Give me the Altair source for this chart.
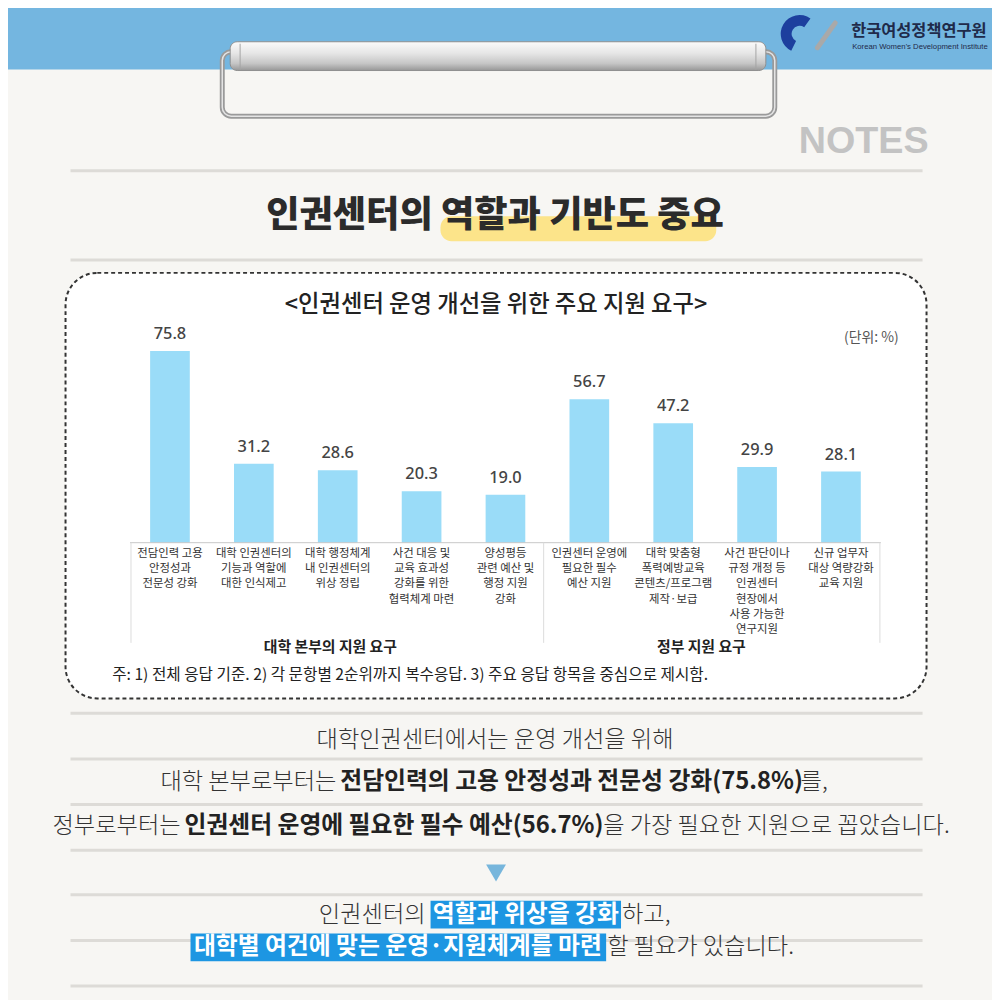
"""Infographic: 인권센터 운영 개선을 위한 주요 지원 요구 (Altair)."""

import altair as alt
import pandas as pd

# ---- data -----------------------------------------------------------------
categories = [
    "전담인력 고용\n안정성과\n전문성 강화",
    "대학 인권센터의\n기능과 역할에\n대한 인식제고",
    "대학 행정체계\n내 인권센터의\n위상 정립",
    "사건 대응 및\n교육 효과성\n강화를 위한\n협력체계 마련",
    "양성평등\n관련 예산 및\n행정 지원\n강화",
    "인권센터 운영에\n필요한 필수\n예산 지원",
    "대학 맞춤형\n폭력예방교육\n콘텐츠/프로그램\n제작·보급",
    "사건 판단이나\n규정 개정 등\n인권센터\n현장에서\n사용 가능한\n연구지원",
    "신규 업무자\n대상 역량강화\n교육 지원",
]
values = [75.8, 31.2, 28.6, 20.3, 19.0, 56.7, 47.2, 29.9, 28.1]
groups = ["대학 본부의 지원 요구"] * 5 + ["정부 지원 요구"] * 4

# ---- layout helpers ---------------------------------------------------------
W = H = 992          # plot area; page margin is 8px
OFF = 8
KR = "Noto Sans CJK KR"
LIGHT = 23.4         # body text sizes
BOLD = 24
one = pd.DataFrame({"k": [0]})


def P(v):
    """Reference pixel -> plot-area pixel."""
    return v - OFF


def box(x1, y1, x2, y2, **kw):
    return alt.Chart(one).mark_rect(**kw).encode(
        x=alt.value(P(x1)), x2=alt.value(P(x2)),
        y=alt.value(P(y1)), y2=alt.value(P(y2)))


def line(x1, y1, x2, y2, **kw):
    return alt.Chart(one).mark_rule(**kw).encode(
        x=alt.value(P(x1)), x2=alt.value(P(x2)),
        y=alt.value(P(y1)), y2=alt.value(P(y2)))


def label(s, x, y, size, weight=400, color="#333333", align="center",
          baseline="middle", font=KR):
    return alt.Chart(one).mark_text(
        align=align, baseline=baseline, fontSize=size, fontWeight=weight,
        color=color, font=font).encode(
        x=alt.value(P(x)), y=alt.value(P(y)), text=alt.value(s))


layers = []

# background + blue header band
layers.append(box(0, 0, 1000, 1000, color="#f7f6f3"))
layers.append(box(0, 0, 1000, 66, color="#74b6e0"))

# clipboard clip
layers.append(box(224, 48, 781, 113, filled=False, stroke="#9a9a9a",
                  strokeWidth=5, cornerRadius=9))
layers.append(box(224, 48, 781, 113, filled=False, stroke="#e4e4e4",
                  strokeWidth=1.5, cornerRadius=9))
metal = alt.Gradient(
    gradient="linear", x1=0, x2=0, y1=0, y2=1,
    stops=[alt.GradientStop(offset=0, color="#fbfbfb"),
           alt.GradientStop(offset=0.4, color="#e6e6e6"),
           alt.GradientStop(offset=0.75, color="#c6c6c6"),
           alt.GradientStop(offset=1, color="#979797")])
layers.append(box(232, 38, 772, 67, fill=metal, stroke="#8f8f8f",
                  strokeWidth=1, cornerRadius=7))
layers.append(line(242, 40, 242, 66, color="#a5a5a5", strokeWidth=1))
layers.append(line(762, 40, 762, 66, color="#a5a5a5", strokeWidth=1))

# logo
layers.append(alt.Chart(one).mark_arc(color="#1d3f9e").encode(
    x=alt.value(P(806)), y=alt.value(P(30)),
    theta=alt.value(3.6), theta2=alt.value(6.9),
    radius=alt.value(19), radius2=alt.value(8)))
layers.append(line(824, 44, 842, 19, color="#a9a9a9", strokeWidth=5,
                   strokeCap="round"))
layers.append(label("한국여성정책연구원", 858, 27, 16.5, weight=700,
                    color="#1f2a4a", align="left"))
layers.append(label("Korean Women's Development Institute", 859, 43, 7.8,
                    color="#1f2a4a", align="left", font="Liberation Sans"))

# NOTES
layers.append(label("NOTES", 936, 150, 38, weight=700, color="#c3c3c3",
                    align="right", baseline="alphabetic",
                    font="Liberation Sans"))

# horizontal rules
for ry in [168, 258, 715, 761, 807, 853, 898, 944, 990]:
    layers.append(line(71, ry, 930, ry, color="#dddbd7", strokeWidth=3))

# headline with yellow marker
layers.append(box(444, 214, 722, 239, color="#fce48a", cornerRadius=11))
layers.append(label("인권센터의 역할과 기반도 중요", 499, 214, 36.5,
                    weight=900, color="#2b2b2b"))

# dashed chart frame
layers.append(box(66, 271, 934, 700, fill="#ffffff", stroke="#333333",
                  strokeWidth=2, strokeDash=[4, 3], cornerRadius=32))
layers.append(label("<인권센터 운영 개선을 위한 주요 지원 요구>", 500, 303,
                    23.5, weight=500, color="#222222"))
layers.append(label("(단위: %)", 906, 337, 14, color="#555555",
                    align="right"))

# ---- bar chart through scales ---------------------------------------------
df = pd.DataFrame({"item": categories, "value": values, "group": groups})
xs = alt.X("item:N", sort=None, axis=None,
           scale=alt.Scale(domain=categories, range=[P(129), P(890)],
                           paddingInner=0.527, paddingOuter=0.2635))
ys = alt.Y("value:Q", axis=None,
           scale=alt.Scale(domain=[0, 100], range=[P(543), P(288)]))

layers.append(alt.Chart(df).mark_bar(color="#9adcf8").encode(x=xs, y=ys))
layers.append(alt.Chart(df).mark_text(
    baseline="bottom", dy=-9, fontSize=16.5, fontWeight=500, color="#444444",
    font="Noto Sans").encode(
    x=xs, y=ys, text=alt.Text("value:Q", format=".1f")))
layers.append(alt.Chart(df).mark_text(
    baseline="top", lineBreak="\n", fontSize=11.5, lineHeight=15.5,
    color="#333333", font=KR).encode(
    x=xs, y=alt.value(P(548)), text="item:N"))

# baseline and group separators
layers.append(line(131, 543, 888, 543, color="#c8c8c8", strokeWidth=1))
for sx in [132, 548, 887]:
    layers.append(line(sx, 543, sx, 644, color="#dcdcdc", strokeWidth=1))
layers.append(label("대학 본부의 지원 요구", 333, 648, 15, weight=700,
                    color="#222222"))
layers.append(label("정부 지원 요구", 707, 648, 15, weight=700,
                    color="#222222"))
layers.append(label(
    "주: 1) 전체 응답 기준. 2) 각 문항별 2순위까지 복수응답. 3) 주요 응답 항목을 중심으로 제시함.",
    113, 676, 15.8, color="#222222", align="left"))

# ---- body text --------------------------------------------------------------
layers.append(label("대학인권센터에서는 운영 개선을 위해", 499, 742, LIGHT,
                    weight=300))
layers.append(label("대학 본부로부터는", 339, 784, LIGHT, weight=300,
                    align="right"))
layers.append(label("전담인력의 고용 안정성과 전문성 강화(75.8%)", 343, 784,
                    BOLD, weight=700, color="#222222", align="left"))
layers.append(label("를,", 807, 784, LIGHT, weight=300, align="left"))
layers.append(label("정부로부터는", 182, 829, LIGHT, weight=300,
                    align="right"))
layers.append(label("인권센터 운영에 필요한 필수 예산(56.7%)", 186, 829, BOLD,
                    weight=700, color="#222222", align="left"))
layers.append(label("을 가장 필요한 지원으로 꼽았습니다.", 608, 829, LIGHT,
                    weight=300, align="left"))

# arrow
layers.append(alt.Chart(one).mark_point(
    shape="triangle-down", filled=True, size=400, color="#77b6dc",
    opacity=1).encode(x=alt.value(P(500)), y=alt.value(P(876))))

# highlighted conclusion
layers.append(label("인권센터의", 429, 918, LIGHT, weight=300, align="right"))
layers.append(box(434, 904, 626, 932, color="#1d96e2"))
layers.append(label("역할과 위상을 강화", 530, 918, BOLD, weight=700,
                    color="#ffffff"))
layers.append(label("하고,", 627, 918, LIGHT, weight=300, align="left"))
layers.append(box(192, 937, 611, 965, color="#1d96e2"))
layers.append(label("대학별 여건에 맞는 운영·지원체계를 마련", 401, 951, BOLD,
                    weight=700, color="#ffffff"))
layers.append(label("할 필요가 있습니다.", 612, 951, LIGHT, weight=300,
                    align="left"))

chart = alt.layer(*layers).properties(
    width=W, height=H, padding=0, background="#f7f6f3",
    autosize=alt.AutoSizeParams(type="none"),
).configure_view(stroke=None)

chart.save("out.html", embed_options={"renderer": "svg", "actions": False})
